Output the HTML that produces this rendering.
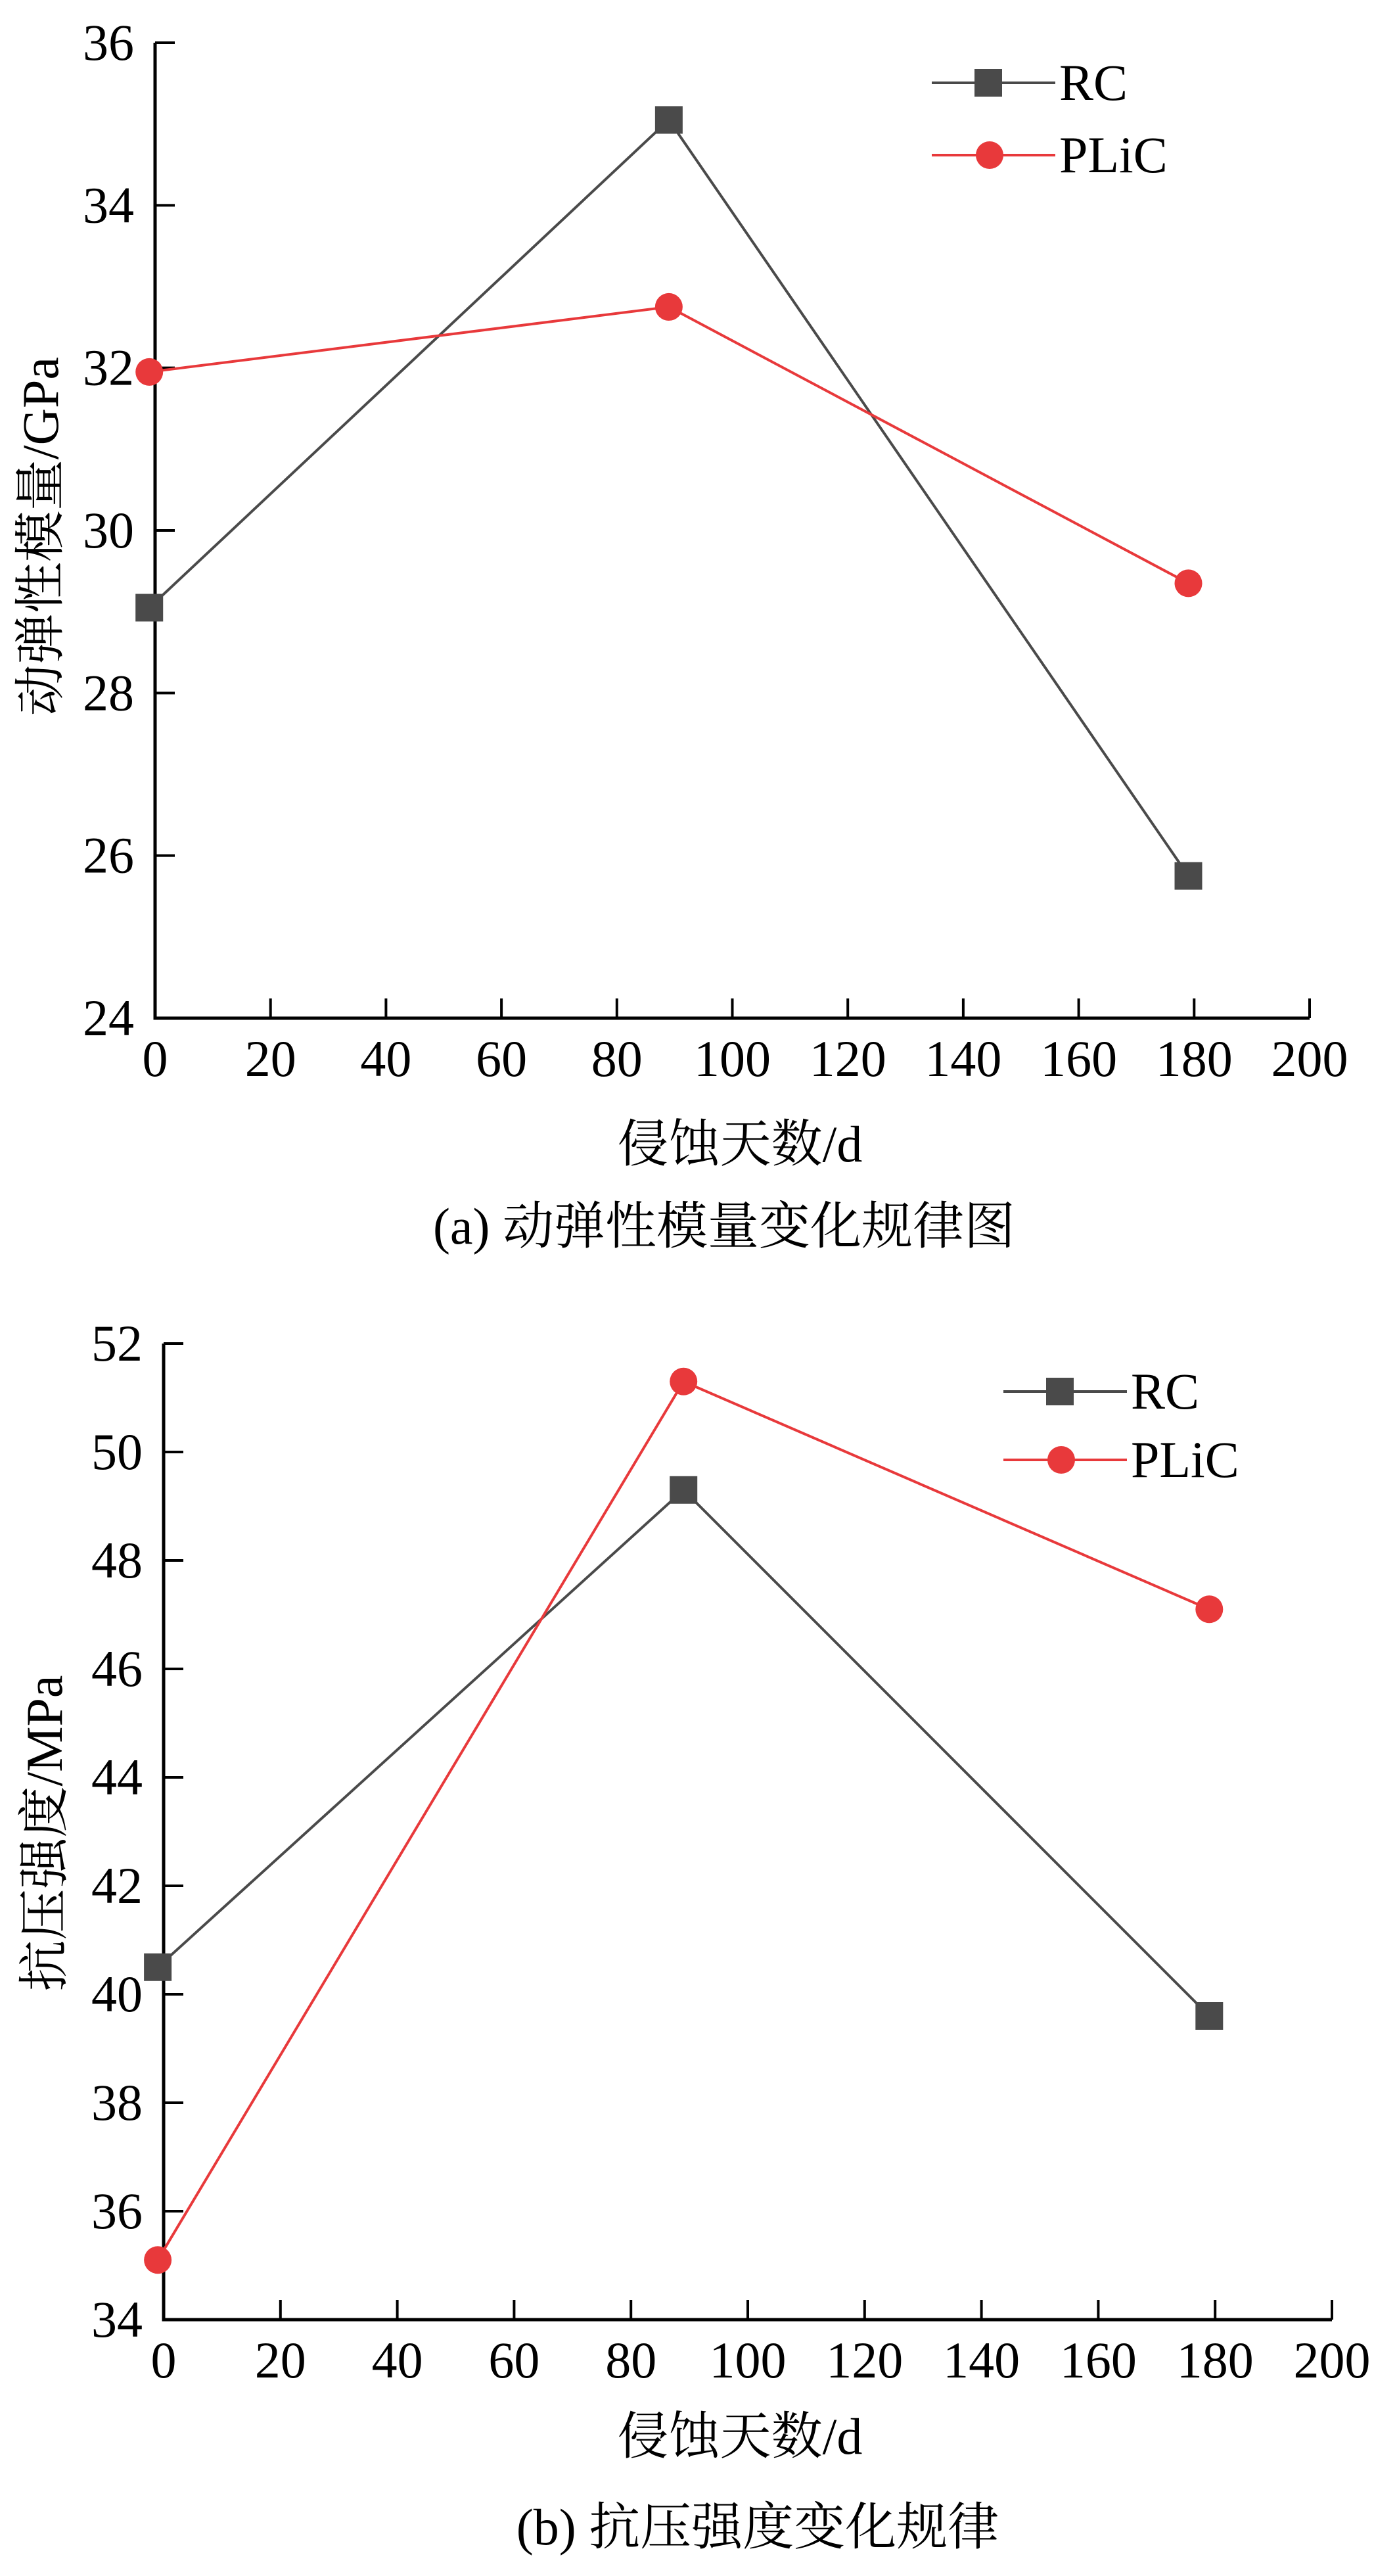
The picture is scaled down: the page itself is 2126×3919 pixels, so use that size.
<!DOCTYPE html>
<html><head><meta charset="utf-8"><style>
html,body{margin:0;padding:0;background:#fff;}
svg{display:block;}
text{font-family:"Liberation Serif","Times New Roman","DejaVu Serif","Noto Serif CJK SC","WenQuanYi Zen Hei",serif;fill:#000;}
</style></head><body>
<svg id="chart" width="2126" height="3919" viewBox="0 0 2126 3919" xmlns="http://www.w3.org/2000/svg"></svg>
<script>
const days = [-1, 89, 179];
const xTicks = [0, 20, 40, 60, 80, 100, 120, 140, 160, 180, 200];
const seriesNames = ["RC", "PLiC"];
const modulusRC = [29.05, 35.05, 25.75];
const modulusPLiC = [31.95, 32.75, 29.35];
const modulusTicks = [24, 26, 28, 30, 32, 34, 36];
const strengthRC = [40.5, 49.3, 39.6];
const strengthPLiC = [35.1, 51.3, 47.1];
const strengthTicks = [34, 36, 38, 40, 42, 44, 46, 48, 50, 52];

const NS = "http://www.w3.org/2000/svg";
const svg = document.getElementById("chart");
function mk(tag, attrs, parent, txt) {
  const e = document.createElementNS(NS, tag);
  for (const k in attrs) e.setAttribute(k, attrs[k]);
  if (txt !== undefined) e.textContent = txt;
  (parent || svg).appendChild(e);
  return e;
}
const colors = {RC: "#4a4a4a", PLiC: "#e8393b"};

function drawChart(cfg) {
  const g = mk("g", {});
  
  
  const xs = v => cfg.x0 + (v - 0) / 200 * (cfg.x1 - cfg.x0);
  const ys = v => cfg.yb + (v - cfg.ymin) / (cfg.ymax - cfg.ymin) * (cfg.yt - cfg.yb);
  const ax = mk("path", {d: `M${cfg.x0} ${cfg.yt} V${cfg.yb} H${cfg.x1}`, fill: "none", stroke: "#000", "stroke-width": 5}, g);
  
  
  cfg.yTicks.forEach(t => {
    const y = ys(t);
    const tk = mk("line", {x1: cfg.x0, x2: cfg.x0 + 30, y1: y, y2: y, stroke: "#000", "stroke-width": 4}, g);
    
    
    const lb = mk("text", {x: cfg.x0 - 32, y: y + 26, "text-anchor": "end", "font-size": 78}, g, String(t));
    
    
  });
  xTicks.forEach(t => {
    const x = xs(t);
    const tk = mk("line", {x1: x, x2: x, y1: cfg.yb, y2: cfg.yb - 30, stroke: "#000", "stroke-width": 4}, g);
    
    
    const lb = mk("text", {x: x, y: cfg.yb + 88, "text-anchor": "middle", "font-size": 78}, g, String(t));
    
    
  });
  [["RC", cfg.rc], ["PLiC", cfg.pl]].forEach(([nm, vals]) => {
    const c = colors[nm];
    const pts = vals.map((v, i) => `${xs(days[i])},${ys(v)}`).join(" ");
    const ln = mk("polyline", {points: pts, fill: "none", stroke: c, "stroke-width": 4}, g);
    
    
    vals.forEach((v, i) => {
      const x = xs(days[i]), y = ys(v);
      let m;
      if (nm === "RC") m = mk("rect", {x: x - 21, y: y - 21, width: 42, height: 42, fill: c}, g);
      else m = mk("circle", {cx: x, cy: y, r: 21, fill: c}, g);
      
      
    });
  });
  seriesNames.forEach((nm, i) => {
    const c = colors[nm], y = cfg.legY[i];
    const lg = mk("g", {}, g);
    
    
    mk("line", {x1: cfg.legX, x2: cfg.legX + 188, y1: y, y2: y, stroke: c, "stroke-width": 4}, lg);
    if (nm === "RC") mk("rect", {x: cfg.legX + 86 - 21, y: y - 21, width: 42, height: 42, fill: c}, lg);
    else mk("circle", {cx: cfg.legX + 88, cy: y, r: 21, fill: c}, lg);
    mk("text", {x: cfg.legX + 194, y: y + 26, "font-size": 78}, lg, nm);
  });
  const xt = mk("text", {x: cfg.xtX, y: cfg.xtY, "text-anchor": "middle", "font-size": 78}, g, "侵蚀天数/d");
  
  
  const yt = mk("text", {x: 0, y: 0, "text-anchor": "middle", "font-size": 78, transform: `translate(${cfg.ytX},${cfg.ytY}) rotate(-90)`}, g, cfg.yTitle);
  
  
  const cp = mk("text", {x: cfg.capX, y: cfg.capY, "text-anchor": "middle", "font-size": 78}, g, cfg.caption);
  
  
}

drawChart({name: "chart-a-dynamic-modulus", x0: 236, x1: 1993, yt: 65, yb: 1549, ymin: 24, ymax: 36,
  yTicks: modulusTicks, rc: modulusRC, pl: modulusPLiC, legX: 1418, legY: [126, 236],
  xtX: 1126, xtY: 1767, ytX: 88, ytY: 816, yTitle: "动弹性模量/GPa", capX: 1102, capY: 1892,
  caption: "(a) 动弹性模量变化规律图"});
drawChart({name: "chart-b-compressive-strength", x0: 249, x1: 2027, yt: 2044, yb: 3529, ymin: 34, ymax: 52,
  yTicks: strengthTicks, rc: strengthRC, pl: strengthPLiC, legX: 1527, legY: [2117, 2221],
  xtX: 1126, xtY: 3733, ytX: 94, ytY: 2789, yTitle: "抗压强度/MPa", capX: 1153, capY: 3871,
  caption: "(b) 抗压强度变化规律"});
</script>
</body></html>
